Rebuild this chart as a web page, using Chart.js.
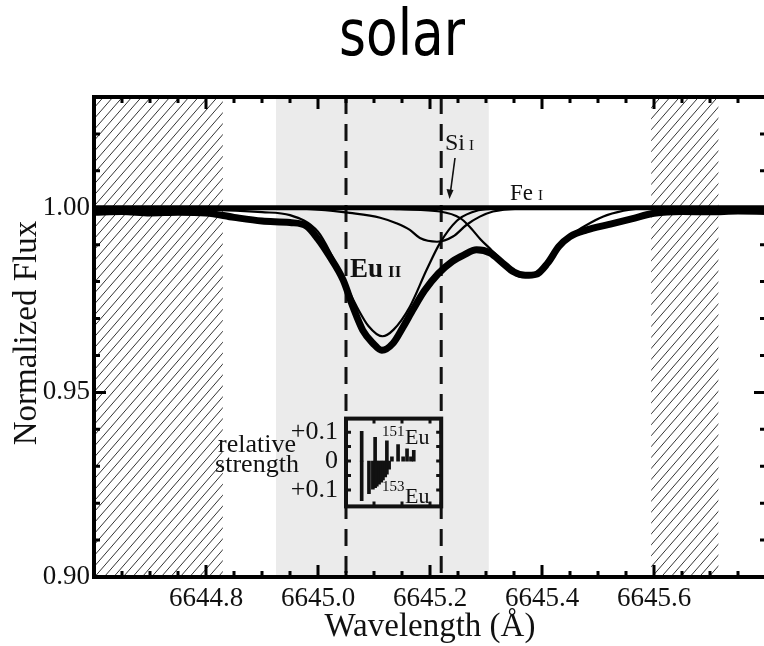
<!DOCTYPE html>
<html>
<head>
<meta charset="utf-8">
<script src="https://cdn.jsdelivr.net/npm/chart.js@4.4.1/dist/chart.umd.min.js"></script>
<style>
html, body { margin: 0; padding: 0; background: #fff; overflow: hidden; }
#wrap { position: relative; width: 780px; height: 646px; }
#main { position: absolute; left: 0; top: 0; }
#inset { position: absolute; }
</style>
</head>
<body>
<div id="wrap">
  <canvas id="main" width="780" height="646"></canvas>
  <canvas id="inset"></canvas>
</div>
<script>
// axes
const X_MIN = 6644.6, X_MAX = 6645.8;
const Y_MIN = 0.90, Y_MAX = 1.03;
const X_TICKS = [6644.8, 6645.0, 6645.2, 6645.4, 6645.6];
const Y_TICKS = [0.90, 0.95, 1.00];

// shaded regions (Å)
const EXCLUDED = [[6644.6, 6644.83], [6645.595, 6645.715]];  // hatched
const FIT_WINDOW = [6644.925, 6645.305];                      // grey band
const LINE_WINDOW = [6645.05, 6645.22];                       // dashed lines

// observed solar spectrum
const OBS_WAVE = [6644.60, 6644.65, 6644.70, 6644.75, 6644.80, 6644.85, 6644.90, 6644.95, 6644.98, 6645.00,
  6645.02, 6645.045, 6645.0625, 6645.08, 6645.098, 6645.114, 6645.134, 6645.152, 6645.17, 6645.19,
  6645.215, 6645.24, 6645.26, 6645.283, 6645.307, 6645.33, 6645.35, 6645.37, 6645.39, 6645.41,
  6645.43, 6645.45, 6645.48, 6645.52, 6645.56, 6645.60, 6645.65, 6645.70, 6645.75, 6645.80];
const OBS_FLUX = [0.9988, 0.9990, 0.9986, 0.9988, 0.9986, 0.9974, 0.9964, 0.9960, 0.9950, 0.9915,
  0.9870, 0.9804, 0.9731, 0.9668, 0.9633, 0.9614, 0.9633, 0.9677, 0.9725, 0.9775,
  0.9822, 0.9855, 0.9872, 0.9886, 0.9878, 0.9850, 0.9826, 0.9817, 0.9820, 0.9850,
  0.9895, 0.9922, 0.9940, 0.9955, 0.9970, 0.9985, 0.9990, 0.9989, 0.9991, 0.9990];

// synthetic single-line profiles
const EU_WAVE = [6644.60, 6644.80, 6644.90, 6644.95, 6645.00, 6645.025, 6645.05, 6645.07, 6645.09, 6645.115,
  6645.135, 6645.164, 6645.194, 6645.218, 6645.248, 6645.275, 6645.30, 6645.40, 6645.80];
const EU_FLUX = [0.9999, 0.9995, 0.9988, 0.9980, 0.9935, 0.9870, 0.9790, 0.9730, 0.9680, 0.9652,
  0.9670, 0.9732, 0.9832, 0.9905, 0.9965, 0.9988, 0.9996, 1.0, 1.0];

const SI_WAVE = [6644.90, 6645.00, 6645.057, 6645.111, 6645.14, 6645.164, 6645.182, 6645.2125, 6645.241, 6645.2655,
  6645.289, 6645.3125, 6645.36, 6645.45];
const SI_FLUX = [1.0, 0.9995, 0.9986, 0.9973, 0.9958, 0.9940, 0.9918, 0.9908, 0.9922, 0.9954,
  0.9976, 0.9990, 0.9998, 1.0];

const FE_WAVE = [6645.10, 6645.146, 6645.218, 6645.254, 6645.27, 6645.29, 6645.31, 6645.325, 6645.348, 6645.362,
  6645.38, 6645.40, 6645.432, 6645.46, 6645.486, 6645.516, 6645.557, 6645.60, 6645.80];
const FE_FLUX = [1.0, 0.9996, 0.9990, 0.9972, 0.9950, 0.9915, 0.9885, 0.9862, 0.9825, 0.9813,
  0.9816, 0.9838, 0.9900, 0.9935, 0.9959, 0.9980, 0.9995, 1.0, 1.0];

const CONT_WAVE = [6644.6, 6645.8];
const CONT_FLUX = [1.0, 1.0];

// hyperfine components (inset), relative strength
const HFS151_WAVE = [6645.078, 6645.102, 6645.123, 6645.132, 6645.143, 6645.152, 6645.159, 6645.166, 6645.171];
const HFS151_STR = [0.103, 0.082, 0.070, 0.015, 0.057, 0.015, 0.042, 0.015, 0.037];
const HFS153_WAVE = [6645.078, 6645.091, 6645.098, 6645.102, 6645.105, 6645.109, 6645.113, 6645.116, 6645.120, 6645.123, 6645.127];
const HFS153_STR = [0.137, 0.113, 0.097, 0.092, 0.087, 0.080, 0.073, 0.065, 0.055, 0.045, 0.028];
const INSET_Y_MIN = -0.157, INSET_Y_MAX = 0.147;
const INSET_Y_TICKS = [-0.1, 0, 0.1];

const SERIF = "'Liberation Serif', 'Times New Roman', serif";
const INK = '#111';

function line(w, f, width) {
    return {
        data: w.map((x, i) => ({ x: x, y: f[i] })),
        showLine: true,
        borderColor: '#000',
        borderWidth: width,
        pointRadius: 0,
        cubicInterpolationMode: 'monotone',
        fill: false
    };
}

function hatch(ctx, x0, x1, top, bottom) {
    ctx.save();
    ctx.beginPath();
    ctx.rect(x0, top, x1 - x0, bottom - top);
    ctx.clip();
    ctx.strokeStyle = '#333';
    ctx.lineWidth = 1;
    const h = bottom - top, run = h / 1.15;
    for (let k = x0 - run; k < x1 + 10; k += 9.5) {
        ctx.beginPath();
        ctx.moveTo(k, bottom);
        ctx.lineTo(k + run, top);
        ctx.stroke();
    }
    ctx.restore();
}

// ion label: element symbol + smaller roman numeral
function ionLabel(ctx, big, small, x, y, bigFont, smallFont, gap) {
    ctx.font = bigFont;
    ctx.fillText(big, x, y);
    const w = ctx.measureText(big).width;
    ctx.font = smallFont;
    ctx.fillText(small, x + w + gap, y);
}

const decor = {
    id: 'decor',
    beforeDatasetsDraw(chart) {
        const { ctx, chartArea: a, scales: { x } } = chart;
        ctx.save();
        // grey fitting window
        ctx.fillStyle = '#ebebeb';
        const g0 = x.getPixelForValue(FIT_WINDOW[0]), g1 = x.getPixelForValue(FIT_WINDOW[1]);
        ctx.fillRect(g0, a.top, g1 - g0, a.bottom - a.top);
        // hatched excluded ranges
        EXCLUDED.forEach(r => hatch(ctx, x.getPixelForValue(r[0]), x.getPixelForValue(r[1]), a.top, a.bottom));
        // dashed line window
        ctx.strokeStyle = '#111';
        ctx.lineWidth = 3;
        ctx.setLineDash([17, 10]);
        LINE_WINDOW.forEach(v => {
            const px = x.getPixelForValue(v);
            ctx.beginPath();
            ctx.moveTo(px, a.top);
            ctx.lineTo(px, a.bottom);
            ctx.stroke();
        });
        ctx.restore();
    },
    afterDatasetsDraw(chart) {
        const { ctx, chartArea: a, scales: { x, y } } = chart;
        ctx.save();
        // frame
        ctx.strokeStyle = '#000';
        ctx.lineWidth = 4;
        ctx.strokeRect(a.left, a.top, a.right - a.left, a.bottom - a.top);
        // inward ticks
        ctx.lineWidth = 3;
        for (let v = 6644.65; v < X_MAX - 0.01; v += 0.05) {
            const major = X_TICKS.some(t => Math.abs(t - v) < 1e-6);
            const len = major ? 12 : 6;
            const px = x.getPixelForValue(v);
            ctx.beginPath();
            ctx.moveTo(px, a.bottom); ctx.lineTo(px, a.bottom - len);
            ctx.moveTo(px, a.top); ctx.lineTo(px, a.top + len);
            ctx.stroke();
        }
        for (let v = 0.91; v < Y_MAX - 0.001; v += 0.01) {
            const major = Y_TICKS.some(t => Math.abs(t - v) < 1e-6);
            const len = major ? 12 : 6;
            const py = y.getPixelForValue(v);
            ctx.beginPath();
            ctx.moveTo(a.left, py); ctx.lineTo(a.left + len, py);
            ctx.moveTo(a.right, py); ctx.lineTo(a.right - len, py);
            ctx.stroke();
        }

        ctx.fillStyle = INK;
        ctx.textAlign = 'left';
        ctx.textBaseline = 'alphabetic';
        // line identifications
        ionLabel(ctx, 'Eu', 'II', 350, 277, 'bold 27px ' + SERIF, 'bold 17px ' + SERIF, 5);
        ionLabel(ctx, 'Si', 'I', 445, 150, '24px ' + SERIF, '15px ' + SERIF, 4);
        ionLabel(ctx, 'Fe', 'I', 510, 200, '23px ' + SERIF, '15px ' + SERIF, 5);
        // Si arrow
        ctx.strokeStyle = '#111';
        ctx.lineWidth = 1.6;
        ctx.beginPath();
        ctx.moveTo(455, 158); ctx.lineTo(450.6, 191);
        ctx.stroke();
        ctx.beginPath();
        ctx.moveTo(449.5, 199); ctx.lineTo(446.5, 189); ctx.lineTo(453.5, 190);
        ctx.closePath();
        ctx.fill();

        // axis titles
        ctx.font = '33px ' + SERIF;
        ctx.textAlign = 'center';
        ctx.fillText('Wavelength (Å)', (a.left + a.right) / 2, 636);
        ctx.save();
        ctx.translate(36, 333);
        ctx.rotate(-Math.PI / 2);
        ctx.fillText('Normalized Flux', 0, 0);
        ctx.restore();

        // title
        ctx.font = '64px "DejaVu Sans", Verdana, sans-serif';
        const tw = ctx.measureText('solar').width;
        ctx.save();
        ctx.translate(402, 55);
        ctx.scale(126 / tw, 1);
        ctx.fillStyle = '#000';
        ctx.fillText('solar', 0, 0);
        ctx.restore();
        ctx.restore();
    }
};

const mainChart = new Chart(document.getElementById('main'), {
    type: 'scatter',
    data: {
        datasets: [
            line(OBS_WAVE, OBS_FLUX, 7),
            line(EU_WAVE, EU_FLUX, 2.2),
            line(SI_WAVE, SI_FLUX, 2.2),
            line(FE_WAVE, FE_FLUX, 2.2),
            line(CONT_WAVE, CONT_FLUX, 5)
        ]
    },
    options: {
        responsive: false,
        animation: false,
        events: [],
        layout: { padding: { top: 97, right: 14, left: 0, bottom: 0 } },
        plugins: { legend: { display: false }, tooltip: { enabled: false } },
        scales: {
            x: {
                type: 'linear', min: X_MIN, max: X_MAX,
                grid: { display: false, drawTicks: false },
                border: { display: false },
                afterBuildTicks: s => { s.ticks = X_TICKS.map(v => ({ value: v })); },
                afterFit: s => { s.height = 69; },
                ticks: {
                    font: { family: SERIF, size: 27 }, color: INK, padding: 6,
                    maxRotation: 0, autoSkip: false,
                    callback: v => v.toFixed(1)
                }
            },
            y: {
                type: 'linear', min: Y_MIN, max: Y_MAX,
                grid: { display: false, drawTicks: false },
                border: { display: false },
                afterBuildTicks: s => { s.ticks = Y_TICKS.map(v => ({ value: v })); },
                afterFit: s => { s.width = 94; },
                ticks: {
                    font: { family: SERIF, size: 27 }, color: INK, padding: 4,
                    autoSkip: false,
                    callback: v => v.toFixed(2)
                }
            }
        }
    },
    plugins: [decor]
});

// ---- inset: hyperfine structure, placed between the dashed lines ----
const INSET_LEFT = 200, INSET_TOP = 417, INSET_H = 91, PAD = 22;
const bxL = mainChart.scales.x.getPixelForValue(LINE_WINDOW[0]);
const bxR = mainChart.scales.x.getPixelForValue(LINE_WINDOW[1]);
const insetCanvas = document.getElementById('inset');
const insetW = Math.ceil(bxR + 6 - INSET_LEFT);
insetCanvas.width = insetW;
insetCanvas.height = INSET_H + 2 * PAD;
insetCanvas.style.left = INSET_LEFT + 'px';
insetCanvas.style.top = (INSET_TOP - PAD) + 'px';

const insetDecor = {
    id: 'insetDecor',
    afterDraw(chart) {
        const { ctx, chartArea: a, scales: { x, y } } = chart;
        ctx.save();
        ctx.strokeStyle = '#111';
        ctx.lineWidth = 4;
        ctx.strokeRect(a.left, a.top, a.right - a.left, a.bottom - a.top);
        ctx.lineWidth = 3;
        [6645.10, 6645.15, 6645.20].forEach(v => {
            const px = x.getPixelForValue(v);
            ctx.beginPath();
            ctx.moveTo(px, a.top); ctx.lineTo(px, a.top + 5);
            ctx.moveTo(px, a.bottom); ctx.lineTo(px, a.bottom - 5);
            ctx.stroke();
        });
        [-0.1, -0.05, 0, 0.05, 0.1].forEach(v => {
            const py = y.getPixelForValue(v);
            ctx.beginPath();
            ctx.moveTo(a.left, py); ctx.lineTo(a.left + 5, py);
            ctx.moveTo(a.right, py); ctx.lineTo(a.right - 5, py);
            ctx.stroke();
        });

        // labels, given in page coordinates
        ctx.translate(-INSET_LEFT, -(INSET_TOP - PAD));
        ctx.fillStyle = INK;
        ctx.textBaseline = 'alphabetic';
        ctx.textAlign = 'center';
        ctx.font = '26px ' + SERIF;
        ctx.fillText('relative', 257, 452);
        ctx.fillText('strength', 257, 472);
        ctx.textAlign = 'left';
        ctx.font = '15px ' + SERIF;
        ctx.fillText('151', 382, 436);
        ctx.fillText('153', 382, 491);
        ctx.font = '22px ' + SERIF;
        ctx.fillText('Eu', 405, 444);
        ctx.fillText('Eu', 405, 503);
        ctx.restore();
    }
};

new Chart(insetCanvas, {
    type: 'bar',
    data: {
        datasets: [
            {
                data: HFS151_WAVE.map((w, i) => ({ x: w, y: [0, HFS151_STR[i]] })),
                backgroundColor: '#111', barThickness: 3, grouped: false
            },
            {
                data: HFS153_WAVE.map((w, i) => ({ x: w, y: [-HFS153_STR[i], 0] })),
                backgroundColor: '#111', barThickness: 3, grouped: false
            }
        ]
    },
    options: {
        responsive: false,
        animation: false,
        events: [],
        layout: { padding: { top: PAD, bottom: PAD, left: 0, right: insetW - (bxR - INSET_LEFT) } },
        plugins: { legend: { display: false }, tooltip: { enabled: false } },
        scales: {
            x: {
                type: 'linear', min: LINE_WINDOW[0], max: LINE_WINDOW[1],
                offset: false, display: false
            },
            y: {
                type: 'linear', min: INSET_Y_MIN, max: INSET_Y_MAX,
                grid: { display: false, drawTicks: false },
                border: { display: false },
                afterBuildTicks: s => { s.ticks = INSET_Y_TICKS.map(v => ({ value: v })); },
                afterFit: s => { s.width = bxL - INSET_LEFT; },
                ticks: {
                    font: { family: SERIF, size: 26 }, color: INK, padding: 8,
                    autoSkip: false,
                    callback: v => (Math.abs(v) < 1e-9 ? '0' : '+0.1')
                }
            }
        }
    },
    plugins: [insetDecor]
});
</script>
</body>
</html>
